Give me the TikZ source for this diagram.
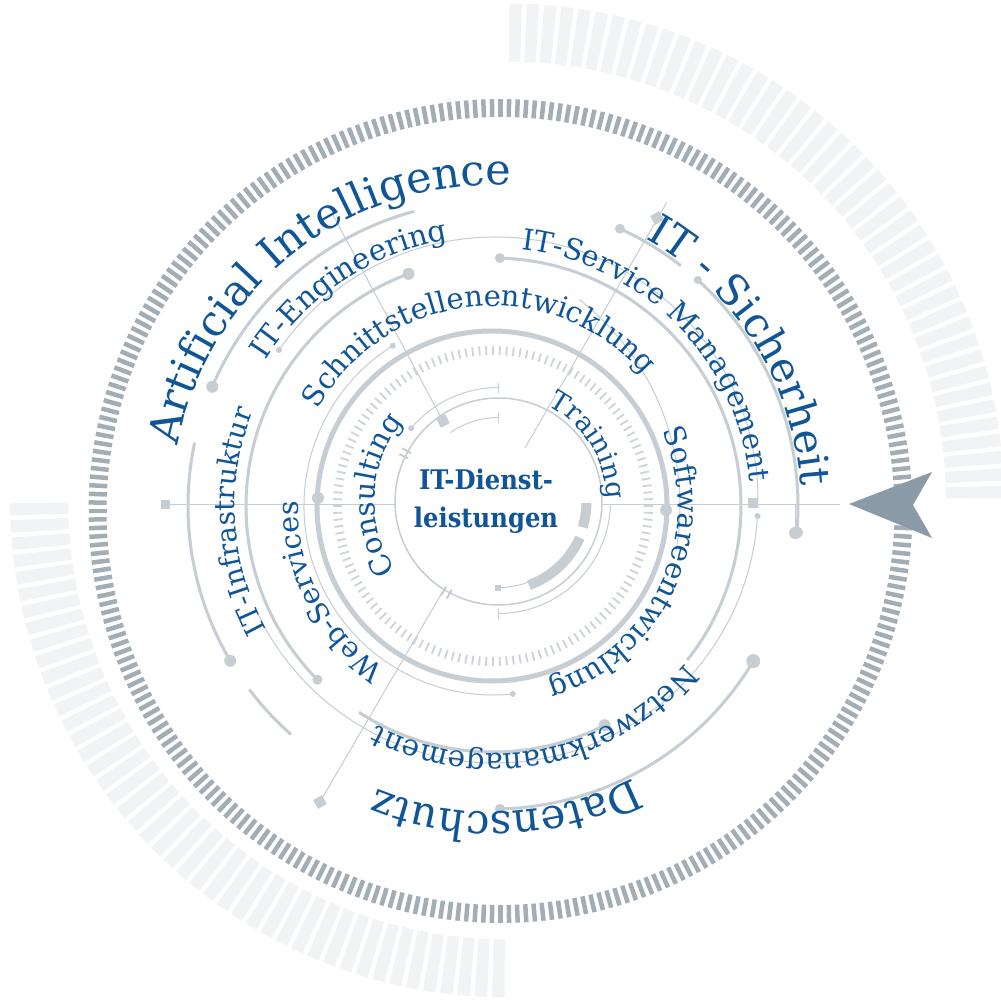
\documentclass[tikz,border=0pt]{standalone}
\usepackage{fontspec}
\usetikzlibrary{decorations.text}
\newfontfamily\slab{DejaVu Serif}
\newfontfamily\slabbold[FakeStretch=0.9]{DejaVu Serif Bold}
\definecolor{tblue}{HTML}{0F5597}
\definecolor{lgray}{HTML}{C6CDD3}
\definecolor{tgray}{HTML}{CDD3D8}
\definecolor{dgray}{HTML}{A3ADB6}
\definecolor{agray}{HTML}{8A9AA6}
\definecolor{vlgray}{HTML}{F1F3F5}
\tikzset{
  thinline/.style={draw=lgray, line width=1pt},
  arcline/.style={draw=lgray, line width=3pt},
  dotfill/.style={fill=lgray},
  curved/.style={decorate, decoration={text along path, text align=center, text={#1}}},
}
\newcommand\bigfmt{\slab\fontsize{42}{42}\selectfont\color{tblue}}
\newcommand\midfmt[1]{\slab\fontsize{#1}{#1}\selectfont\color{tblue}}
\begin{document}
\begin{tikzpicture}[x=1pt,y=1pt]
\useasboundingbox (-493,-496) rectangle (508,506);
\fill[white] (-493,-496) rectangle (508,506);

% light outer ring
\begin{scope}[shift={(14,5.5)}]
\foreach \a in {1,3,...,89}{
  \fill[vlgray] (\a-0.72:439) -- (\a-0.72:497) -- (\a+0.72:497) -- (\a+0.72:439) -- cycle;
  \fill[vlgray] (\a+179.28:439) -- (\a+179.28:497) -- (\a+180.72:497) -- (\a+180.72:439) -- cycle;
}
\end{scope}

% dark tick ring
\begin{scope}[shift={(7.5,-5)}]
\foreach \i in {0,...,299}{
  \draw[dgray, line width=4.5pt] (\i*1.2:394) -- (\i*1.2:412);
}
\end{scope}

% ring r=305 segments
\draw[arcline] (157:305) arc[start angle=157, end angle=105, radius=305];
\draw[arcline] (168:305) arc[start angle=168, end angle=210.5, radius=305];
\draw[arcline] (217:305) arc[start angle=217, end angle=228.5, radius=305];
\draw[arcline] (65.4:305) arc[start angle=65.4, end angle=52, radius=305];
\draw[arcline] (47.8:305) arc[start angle=47.8, end angle=-5, radius=305];
\draw[arcline] (-30.8:303) arc[start angle=-30.8, end angle=-88.7, radius=303];
\fill[dotfill] (157:305) circle (6) (210.5:305) circle (6) (65.4:305) circle (5)
  (47.8:305) circle (4) (-5:305) circle (6) (-30.8:303) circle (7) (-88.7:303) circle (5);

% ring r=247 segments
\draw[arcline] (110:247) arc[start angle=110, end angle=224.7, radius=247];
\draw[arcline] (237:246) arc[start angle=237, end angle=297, radius=246];
\draw[arcline] (88.4:248) arc[start angle=88.4, end angle=-38.4, radius=248];
\fill[dotfill] (110:247) circle (6) (224.7:247) circle (5) (297:246) circle (6) (88.4:248) circle (5);

% thin circle r=262 (centre slightly offset)
\begin{scope}[shift={(2,6)}]
  \draw[thinline] (145.2:263) arc[start angle=145.2, end angle=-0.3, radius=263];
  \fill[dotfill] (145.2:263) circle (3);
  \draw[thinline] (-3.5:263) arc[start angle=-3.5, end angle=-155, radius=263];
  \fill[dotfill] (-3.5:263) circle (3);
\end{scope}
% thin circle r=188
\draw[thinline] (122:189) arc[start angle=122, end angle=276, radius=189];
\fill[dotfill] (122:189) circle (3) (276:189) circle (3);
% thin arc on the right, under "entwicklung"
\begin{scope}[shift={(-75,0)}]
  \draw[thinline] (52:262) arc[start angle=52, end angle=-10, radius=262];
\end{scope}

% thick ring and tick ring
\draw[lgray, line width=5pt] (-1,0) circle (175);
\fill[dotfill] (-175,8) circle (6) (173,-4) circle (6);
\foreach \i in {0,...,143}{
  \draw[tgray, line width=1.8pt] (\i*2.5:151) -- (\i*2.5:160);
}

% horizontal line, squares, radial lines
\draw[thinline] (-327,2) -- (-98,2);
\draw[thinline] (109,2) -- (347,2);
\fill[dotfill] (-331.5,-2.5) rectangle (-322.5,6.5);
\fill[dotfill] (255,-2) rectangle (265,8);
\draw[thinline] (302,2) -- (302,-27);
\fill[dotfill] (302,-27) circle (6);
\draw[thinline] (-160,291) -- (-50,85);
\draw[thinline] (174,304) -- (32,58);
\draw[thinline] (-173,-296) -- (-50,-85);
\fill[dotfill, rotate around={28:(-50,85)}] (-55,80) rectangle (-45,90);
\fill[dotfill, rotate around={30:(164,288)}] (159,283) rectangle (169,293);
\fill[dotfill, rotate around={30:(-173,-296)}] (-178,-301) rectangle (-168,-291);

% inner details
\begin{scope}[shift={(5.5,4.5)}]
  \draw[lgray, line width=1.5pt] (0,0) circle (103.5);
  \draw[lgray, line width=10pt] (-1:88) arc[start angle=-1, end angle=-17, radius=88];
  \draw[lgray, line width=10pt] (-24:89) arc[start angle=-24, end angle=-70, radius=89];
  \draw[thinline] (-70:86) arc[start angle=-70, end angle=-90, radius=86];
  \fill[dotfill] (-90:86) ++(-3,-3) rectangle ++(6,6);
  \draw[thinline] (-90:112) arc[start angle=-90, end angle=-2, radius=112];
  \draw[thinline] (-90:107) -- (-90:117);
  \draw[thinline] (140:114) arc[start angle=140, end angle=90, radius=114];
  \fill[dotfill] (140:114) circle (3);
  \draw[thinline] (90:109) -- (90:119);
  \draw[thinline] (125:84) arc[start angle=125, end angle=90, radius=84];
  \draw[thinline] (90:79) -- (90:89);
  \draw[lgray, line width=2pt] (-118:100) -- (-118:110) (-121.5:100) -- (-121.5:110);
  \draw[lgray, line width=2pt] (151:100) -- (151:110) (154.5:100) -- (154.5:110);
  \path[curved={|\midfmt{29}|Consulting}] (213:124) arc[start angle=213, end angle=141, radius=124];
  \path[curved={|\midfmt{27}|Training}] (63:108) arc[start angle=63, end angle=1, radius=108];
\end{scope}

% curved texts
\path[curved={|\slab\fontsize{43}{43}\selectfont\color{tblue}|Artificial Intelligence}] (170:321) arc[start angle=170, end angle=86, radius=321];
\path[curved={|\bigfmt|IT - Sicherheit}] (61:308) arc[start angle=61, end angle=3, radius=308];
\path[curved={|\bigfmt|Datenschutz}] (-61:306) arc[start angle=-61, end angle=-114, radius=306];
\path[curved={|\midfmt{29.5}|IT-Engineering}] (148:270) arc[start angle=148, end angle=99, radius=270];
\path[curved={|\midfmt{29}|Schnittstellenentwicklung}] (151:200) arc[start angle=151, end angle=41, radius=200];
\path[curved={|\midfmt{29}|IT-Service Management}] (85:258) arc[start angle=85, end angle=4, radius=258];
\path[curved={|\midfmt{29}|Softwareentwicklung}] (24:185) arc[start angle=24, end angle=-73, radius=185];
\path[curved={|\midfmt{29.5}|Netzwerkmanagement}] (-39:248) arc[start angle=-39, end angle=-118, radius=248];
\path[curved={|\midfmt{28}|IT-Infrastruktur}] (209:258) arc[start angle=209, end angle=158, radius=258];
\path[curved={|\midfmt{28.5}|Web-Services}] (236.5:195) arc[start angle=236.5, end angle=178.5, radius=195];

% centre
\node[font=\slabbold\fontsize{27}{38}\selectfont, text=tblue, align=center] (centre) at (-7,5) {IT-Dienst-\\leistungen};

% arrow
\fill[agray] (356,2) -- (439,34) -- (420,1) -- (439,-32) -- cycle;
\end{tikzpicture}
\end{document}
